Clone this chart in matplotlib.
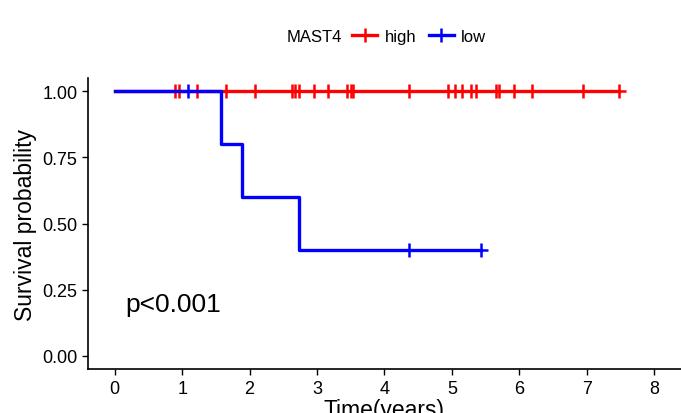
import numpy as np
import matplotlib.pyplot as plt
from matplotlib.lines import Line2D

plt.rcParams['font.family'] = ['Liberation Sans', 'DejaVu Sans']

# --- data: follow-up times (years) and event status (1 = death, 0 = censored) ---
high_time = [0.90, 0.95, 1.22, 1.65, 2.08, 2.63, 2.67, 2.74, 2.96, 3.17, 3.44,
             3.50, 3.53, 4.36, 4.95, 5.04, 5.15, 5.28, 5.36, 5.66, 5.70, 5.92,
             6.19, 6.95, 7.48]
high_status = [0] * len(high_time)

low_time = [1.08, 1.58, 1.89, 2.74, 4.36, 5.43]
low_status = [0, 1, 1, 1, 0, 0]

groups = ["high", "low"]
colors = {"high": "#ff0000", "low": "#0000ff"}
x_ticks = [0, 1, 2, 3, 4, 5, 6, 7, 8]
y_ticks = [0.00, 0.25, 0.50, 0.75, 1.00]
p_text = "p<0.001"


def kaplan_meier(times, status):
    t = np.array(times)
    e = np.array(status)
    order = np.argsort(t, kind="stable")
    t, e = t[order], e[order]
    step_x, step_y = [0.0], [1.0]
    cens_x, cens_y = [], []
    surv = 1.0
    at_risk = len(t)
    for ti in np.unique(t):
        d = np.sum((t == ti) & (e == 1))
        c = np.sum((t == ti) & (e == 0))
        if d > 0:
            surv *= (at_risk - d) / at_risk
        step_x.append(ti)
        step_y.append(surv)
        if c > 0:
            cens_x.append(ti)
            cens_y.append(surv)
        at_risk -= d + c
    return step_x, step_y, cens_x, cens_y


fig = plt.figure(figsize=(6.81, 4.14), dpi=100)
ax = fig.add_axes([0.129, 0.106, 0.871, 0.703])

data = {"high": (high_time, high_status), "low": (low_time, low_status)}
for g in groups:
    sx, sy, cx, cy = kaplan_meier(*data[g])
    ax.step(sx, sy, where="post", color=colors[g], lw=2.4)
    ax.plot(cx, cy, ls="none", marker="+", ms=10, mew=1.8, color=colors[g])

ax.text(0.15, 0.17, p_text, fontsize=19)

ax.set_xlim(-0.4, 8.4)
ax.set_ylim(-0.05, 1.05)
ax.set_xticks(x_ticks)
ax.set_yticks(y_ticks)
ax.set_yticklabels([f"{v:.2f}" for v in y_ticks])
ax.tick_params(labelsize=13, length=4, width=1, colors="black")
for s in ["top", "right"]:
    ax.spines[s].set_visible(False)
for s in ["left", "bottom"]:
    ax.spines[s].set_linewidth(1.2)
ax.set_xlabel("Time(years)", fontsize=16.5, labelpad=1)
ax.set_ylabel("Survival probability", fontsize=16.5, labelpad=4)

# legend: title inline to the left of entries
fig.text(0.421, 0.91, "MAST4", fontsize=12, ha="left", va="center")
handles = [Line2D([], [], color=colors[g], lw=2.4, marker="+", ms=10, mew=1.8)
           for g in groups]
fig.legend(handles, groups, loc="center left", ncol=2,
           bbox_to_anchor=(0.517, 0.91), frameon=False, fontsize=12,
           handlelength=1.5, handletextpad=0.45, columnspacing=0.75,
           borderpad=0, borderaxespad=0)

fig.savefig("out.png", dpi=100)
